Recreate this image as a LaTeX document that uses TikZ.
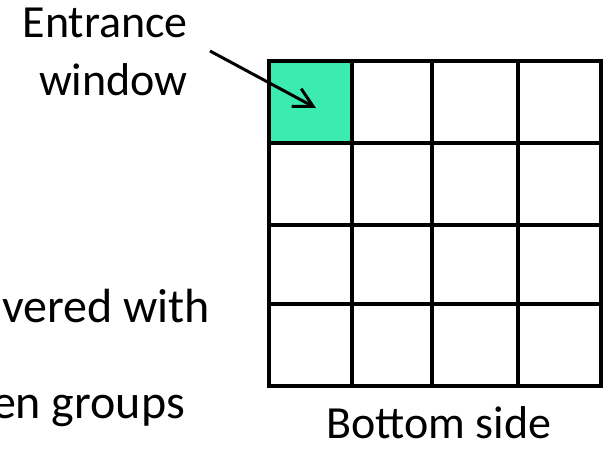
\documentclass[tikz,border=0pt]{standalone}
\usepackage{fontspec}
\setmainfont{Carlito}
\usetikzlibrary{arrows.meta}
\definecolor{cellgreen}{RGB}{60,235,176}
\tikzset{
  gridline/.style={line width=4.6pt, line cap=rect},
  lbl/.style={inner sep=0pt, font=\fontsize{46}{52}\selectfont},
  sidelbl/.style={lbl, font=\fontsize{48}{54}\selectfont},
  pointer/.style={line width=3pt, -{Straight Barb[length=19pt,width=20pt,line width=3pt]}}
}
\begin{document}
\begin{tikzpicture}[x=1pt,y=-1pt]
\useasboundingbox (0,0) rectangle (608,448);
% entrance cell
\fill[cellgreen] (269,61) rectangle (352,143);
% grid
\foreach \gx in {269,352,432,518,601}{
  \draw[gridline] (\gx,61) -- (\gx,386);
}
\foreach \gy in {61,143,225,304,386}{
  \draw[gridline] (269,\gy) -- (601,\gy);
}
% labels
\node[lbl, anchor=base east] (entr) at (188,37) {Entrance};
\node[lbl, anchor=base east] (wind) at (188,95) {window};
\node[sidelbl, anchor=base east] (covered) at (210,322) {vered with};
\node[sidelbl, anchor=base east] (groups) at (185,418) {en groups};
\node[lbl, anchor=base, text depth=0pt] (bottom) at (439,438) {Bottom side};
% arrow
\coordinate (astart) at (210,51);
\coordinate (atip) at (316,108);
\draw[pointer] (astart) -- (atip);
\end{tikzpicture}
\end{document}
